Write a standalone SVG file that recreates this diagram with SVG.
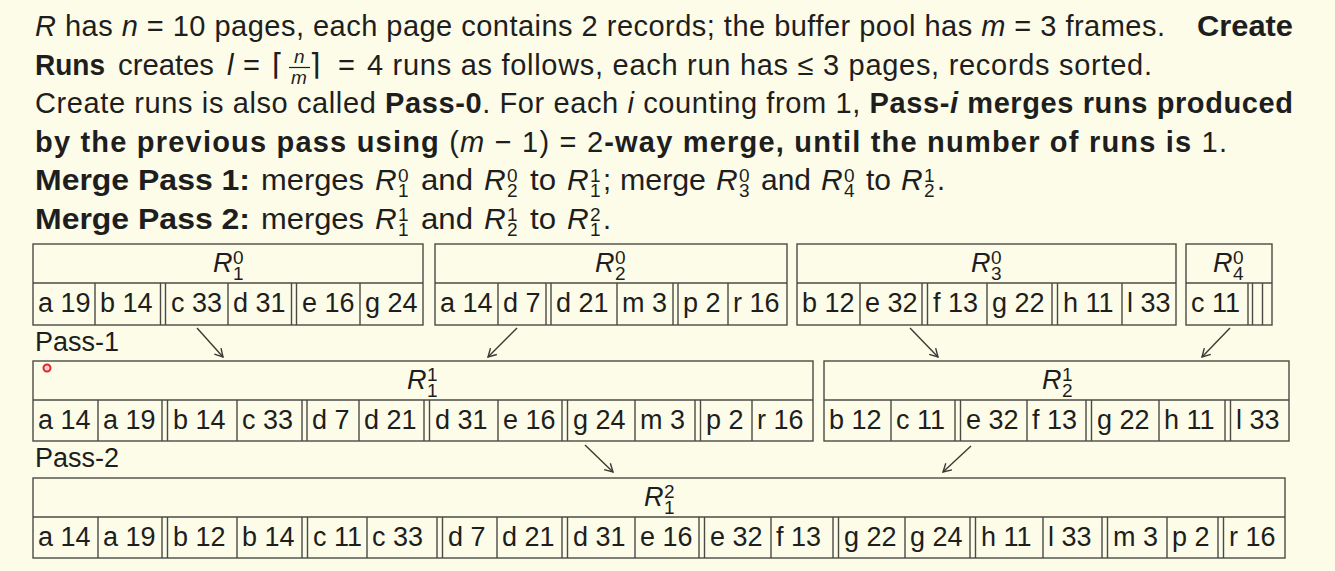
<svg xmlns="http://www.w3.org/2000/svg" width="1335" height="571" viewBox="0 0 1335 571">
<style>
.bg{fill:#fcfce9}
.ln{fill:none;stroke:#4b4b44;stroke-width:1.4}
.t{font-family:"Liberation Sans",Arial,"DejaVu Sans",sans-serif;fill:#1e1e1e}
.p{font-size:29px}
.rec{font-size:27px}
.hdr{font-size:27px;font-style:italic}
.sd{font-size:19px}
.pr{font-size:30px;font-style:italic}
.it{font-style:italic}
.b{font-weight:bold}
.ar{fill:none;stroke:#3a3a34;stroke-width:1.4}
.dl{font-family:"DejaVu Sans",sans-serif;font-size:30px;fill:#1e1e1e}
</style>
<defs>
<marker id="ah" markerWidth="12" markerHeight="12" refX="10" refY="6" orient="auto" markerUnits="userSpaceOnUse">
<path d="M2,1.5 L10,6 L2,10.5" fill="none" stroke="#3a3a34" stroke-width="1.4"/>
</marker>
</defs>
<rect class="bg" x="0" y="0" width="1335" height="571"/>

<g id="paragraph">
<text class="t p" x="35" y="36" textLength="1130" lengthAdjust="spacing"><tspan class="it">R</tspan> has <tspan class="it">n</tspan> = 10 pages, each page contains 2 records; the buffer pool has <tspan class="it">m</tspan> = 3 frames.</text>
<text class="t p b" x="1197" y="36" textLength="96" lengthAdjust="spacingAndGlyphs">Create</text>

<text class="t p b" x="35" y="74.5" textLength="70" lengthAdjust="spacingAndGlyphs">Runs</text>
<text class="t p" x="118" y="74.5" textLength="96" lengthAdjust="spacingAndGlyphs">creates</text>
<text class="t p it" x="227" y="74.5">l</text>
<text class="t p" x="243" y="74.5">=</text>
<text class="dl" x="272" y="74.5">⌈</text>
<text class="t sd it" x="294" y="63">n</text>
<line x1="289" y1="67.5" x2="310" y2="67.5" stroke="#1e1e1e" stroke-width="1.2"/>
<text class="t sd it" x="291" y="84">m</text>
<text class="dl" x="309" y="74.5">⌉</text>
<text class="t p" x="338" y="74.5">=</text>
<text class="t p" x="367" y="74.5" textLength="785" lengthAdjust="spacing">4 runs as follows, each run has ≤ 3 pages, records sorted.</text>

<text class="t p" x="35" y="113" textLength="1258" lengthAdjust="spacing">Create runs is also called <tspan class="b">Pass-0</tspan>. For each <tspan class="it">i</tspan> counting from 1, <tspan class="b">Pass-<tspan class="it">i</tspan> merges runs produced</tspan></text>

<text class="t p" x="35" y="151.5" textLength="1192" lengthAdjust="spacing"><tspan class="b">by the previous pass using</tspan> (<tspan class="it">m</tspan> − 1) = 2<tspan class="b">-way merge, until the number of runs is</tspan> 1.</text>

<text class="t p b" x="35" y="190" textLength="215" lengthAdjust="spacingAndGlyphs">Merge Pass 1:</text>
<text class="t p" x="261" y="190" textLength="103" lengthAdjust="spacingAndGlyphs">merges</text>
<text class="t pr" x="375" y="190">R</text><text class="t sd" x="398" y="182">0</text><text class="t sd" x="398" y="197">1</text>
<text class="t p" x="421" y="190" textLength="52" lengthAdjust="spacingAndGlyphs">and</text>
<text class="t pr" x="484" y="190">R</text><text class="t sd" x="507" y="182">0</text><text class="t sd" x="507" y="197">2</text>
<text class="t p" x="530" y="190" textLength="26" lengthAdjust="spacingAndGlyphs">to</text>
<text class="t pr" x="567" y="190">R</text><text class="t sd" x="590" y="182">1</text><text class="t sd" x="590" y="197">1</text>
<text class="t p" x="603" y="190">;</text>
<text class="t p" x="620" y="190" textLength="86" lengthAdjust="spacingAndGlyphs">merge</text>
<text class="t pr" x="716" y="190">R</text><text class="t sd" x="739" y="182">0</text><text class="t sd" x="739" y="197">3</text>
<text class="t p" x="761" y="190" textLength="50" lengthAdjust="spacingAndGlyphs">and</text>
<text class="t pr" x="821" y="190">R</text><text class="t sd" x="844" y="182">0</text><text class="t sd" x="844" y="197">4</text>
<text class="t p" x="866" y="190" textLength="25" lengthAdjust="spacingAndGlyphs">to</text>
<text class="t pr" x="901" y="190">R</text><text class="t sd" x="924" y="182">1</text><text class="t sd" x="924" y="197">2</text>
<text class="t p" x="937" y="190">.</text>

<text class="t p b" x="35" y="228.5" textLength="215" lengthAdjust="spacingAndGlyphs">Merge Pass 2:</text>
<text class="t p" x="261" y="228.5" textLength="103" lengthAdjust="spacingAndGlyphs">merges</text>
<text class="t pr" x="375" y="228.5">R</text><text class="t sd" x="398" y="220.5">1</text><text class="t sd" x="398" y="235.5">1</text>
<text class="t p" x="421" y="228.5" textLength="52" lengthAdjust="spacingAndGlyphs">and</text>
<text class="t pr" x="484" y="228.5">R</text><text class="t sd" x="507" y="220.5">1</text><text class="t sd" x="507" y="235.5">2</text>
<text class="t p" x="530" y="228.5" textLength="26" lengthAdjust="spacingAndGlyphs">to</text>
<text class="t pr" x="567" y="228.5">R</text><text class="t sd" x="590" y="220.5">2</text><text class="t sd" x="590" y="235.5">1</text>
<text class="t p" x="603" y="228.5">.</text>
</g>

<g id="run-R1-0">
<rect class="ln" x="33" y="244" width="390" height="81"/>
<path class="ln" d="M33 283H423M95 283V325M228 283V325M360 283V325M160.5 283V325M165.5 283V325M291.5 283V325M296.5 283V325"/>
<text class="t hdr" x="213" y="272">R</text><text class="t sd" x="233" y="264">0</text><text class="t sd" x="233" y="279.5">1</text>
<g class="t rec"><text x="38" y="312">a 19</text><text x="100" y="312">b 14</text><text x="171" y="312">c 33</text><text x="233" y="312">d 31</text><text x="302" y="312">e 16</text><text x="365" y="312">g 24</text></g>
</g>

<g id="run-R2-0">
<rect class="ln" x="435" y="244" width="352" height="81"/>
<path class="ln" d="M435 283H787M498 283V325M617 283V325M728 283V325M546 283V325M551 283V325M673 283V325M678 283V325"/>
<text class="t hdr" x="595" y="272">R</text><text class="t sd" x="615" y="264">0</text><text class="t sd" x="615" y="279.5">2</text>
<g class="t rec"><text x="440" y="312">a 14</text><text x="503" y="312">d 7</text><text x="556" y="312">d 21</text><text x="622" y="312">m 3</text><text x="683" y="312">p 2</text><text x="733" y="312">r 16</text></g>
</g>

<g id="run-R3-0">
<rect class="ln" x="797" y="244" width="379" height="81"/>
<path class="ln" d="M797 283H1176M860 283V325M987 283V325M1122 283V325M922 283V325M927.5 283V325M1052 283V325M1057.5 283V325"/>
<text class="t hdr" x="971" y="272">R</text><text class="t sd" x="991" y="264">0</text><text class="t sd" x="991" y="279.5">3</text>
<g class="t rec"><text x="802" y="312">b 12</text><text x="865" y="312">e 32</text><text x="933" y="312">f 13</text><text x="992" y="312">g 22</text><text x="1063" y="312">h 11</text><text x="1127" y="312">l 33</text></g>
</g>

<g id="run-R4-0">
<rect class="ln" x="1186" y="244" width="86" height="81"/>
<path class="ln" d="M1186 283H1272M1248 283V325M1252.5 283V325M1262.5 283V325"/>
<text class="t hdr" x="1213" y="272">R</text><text class="t sd" x="1233" y="264">0</text><text class="t sd" x="1233" y="279.5">4</text>
<g class="t rec"><text x="1191" y="312">c 11</text></g>
</g>

<text class="t rec" x="35" y="351">Pass-1</text>

<g id="run-R1-1">
<rect class="ln" x="33" y="361" width="780" height="80"/>
<path class="ln" d="M33 400H813M98 400V441M237 400V441M359 400V441M498 400V441M635 400V441M752 400V441M162 400V441M167.5 400V441M302 400V441M307 400V441M424 400V441M429.5 400V441M562 400V441M567.5 400V441M695 400V441M700.5 400V441"/>
<text class="t hdr" x="407" y="389">R</text><text class="t sd" x="427" y="381">1</text><text class="t sd" x="427" y="396.5">1</text>
<g class="t rec"><text x="38" y="429">a 14</text><text x="103" y="429">a 19</text><text x="173" y="429">b 14</text><text x="242" y="429">c 33</text><text x="312" y="429">d 7</text><text x="364" y="429">d 21</text><text x="435" y="429">d 31</text><text x="503" y="429">e 16</text><text x="573" y="429">g 24</text><text x="640" y="429">m 3</text><text x="706" y="429">p 2</text><text x="757" y="429">r 16</text></g>
</g>

<g id="run-R2-1">
<rect class="ln" x="824" y="361" width="465" height="80"/>
<path class="ln" d="M824 400H1289M891 400V441M1027 400V441M1159 400V441M955 400V441M960.5 400V441M1086 400V441M1091.5 400V441M1225 400V441M1230.5 400V441"/>
<text class="t hdr" x="1042" y="389">R</text><text class="t sd" x="1062" y="381">1</text><text class="t sd" x="1062" y="396.5">2</text>
<g class="t rec"><text x="829" y="429">b 12</text><text x="896" y="429">c 11</text><text x="966" y="429">e 32</text><text x="1032" y="429">f 13</text><text x="1097" y="429">g 22</text><text x="1164" y="429">h 11</text><text x="1236" y="429">l 33</text></g>
</g>

<text class="t rec" x="35" y="467">Pass-2</text>

<g id="run-R1-2">
<rect class="ln" x="33" y="478" width="1252" height="80"/>
<path class="ln" d="M33 517H1285M98 517V558M237 517V558M367 517V558M497 517V558M635 517V558M771 517V558M905 517V558M1043 517V558M1167 517V558M162 517V558M167.5 517V558M302 517V558M307.5 517V558M437 517V558M442.5 517V558M562 517V558M567.5 517V558M699 517V558M704.5 517V558M833 517V558M838.5 517V558M970 517V558M975.5 517V558M1102 517V558M1107.5 517V558M1218 517V558M1223.5 517V558"/>
<text class="t hdr" x="644" y="506">R</text><text class="t sd" x="664" y="498">2</text><text class="t sd" x="664" y="513.5">1</text>
<g class="t rec"><text x="38" y="546">a 14</text><text x="103" y="546">a 19</text><text x="173" y="546">b 12</text><text x="242" y="546">b 14</text><text x="313" y="546">c 11</text><text x="372" y="546">c 33</text><text x="448" y="546">d 7</text><text x="502" y="546">d 21</text><text x="573" y="546">d 31</text><text x="640" y="546">e 16</text><text x="710" y="546">e 32</text><text x="776" y="546">f 13</text><text x="844" y="546">g 22</text><text x="910" y="546">g 24</text><text x="981" y="546">h 11</text><text x="1048" y="546">l 33</text><text x="1113" y="546">m 3</text><text x="1172" y="546">p 2</text><text x="1229" y="546">r 16</text></g>
</g>

<g id="connectors">
<line class="ar" x1="197" y1="328" x2="223" y2="357" marker-end="url(#ah)"/>
<line class="ar" x1="517" y1="328" x2="488" y2="357" marker-end="url(#ah)"/>
<line class="ar" x1="910" y1="328" x2="938" y2="357" marker-end="url(#ah)"/>
<line class="ar" x1="1230" y1="328" x2="1202" y2="357" marker-end="url(#ah)"/>
<line class="ar" x1="585" y1="445" x2="613" y2="472" marker-end="url(#ah)"/>
<line class="ar" x1="971" y1="446" x2="943" y2="472" marker-end="url(#ah)"/>
</g>

<circle cx="47" cy="368" r="3.5" fill="#ffd6d6" stroke="#e3262b" stroke-width="2"/>
</svg>
